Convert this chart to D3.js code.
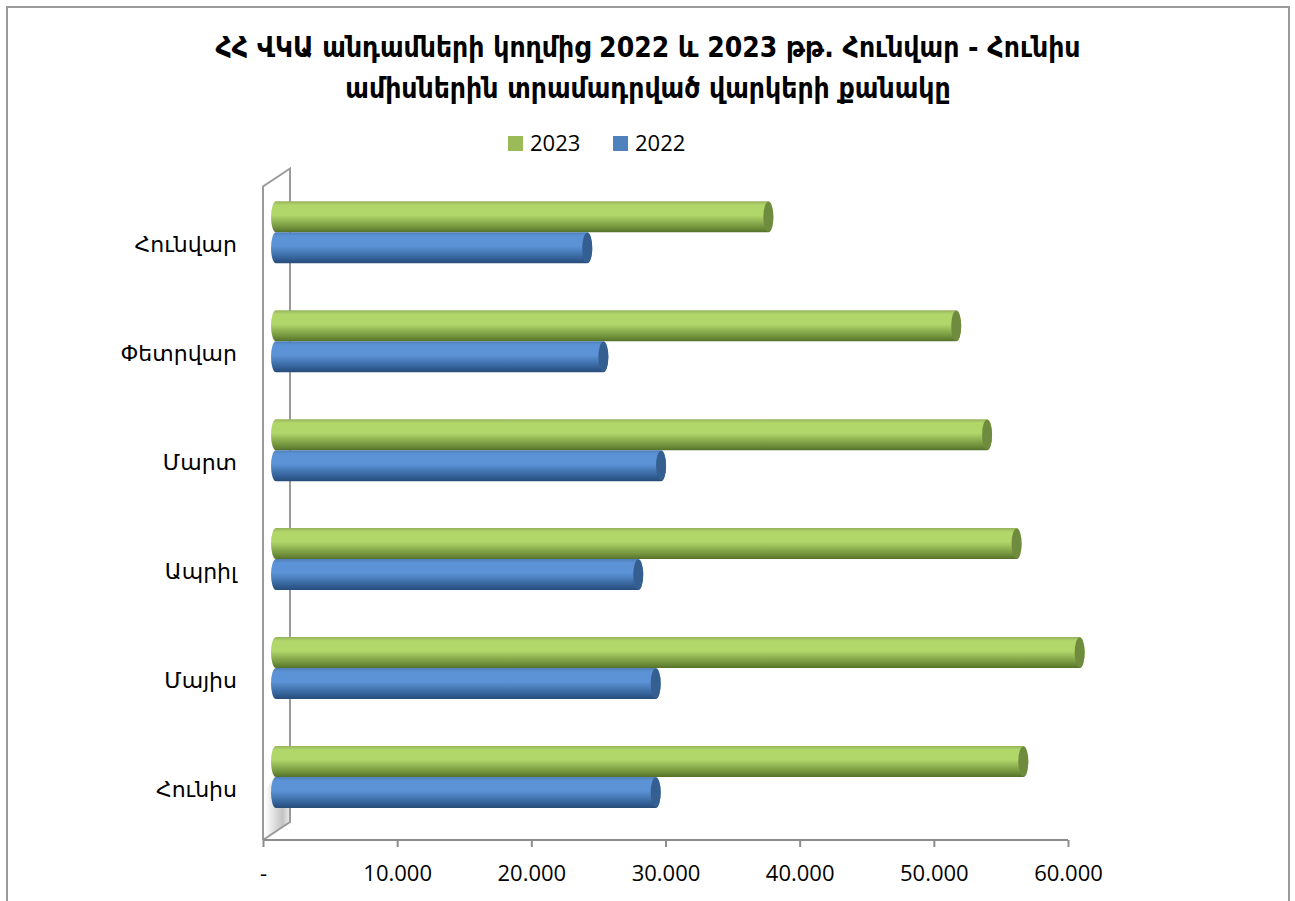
<!DOCTYPE html>
<html lang="hy">
<head>
<meta charset="utf-8">
<title>Վարկերի քանակը</title>
<script src="https://cdn.jsdelivr.net/npm/d3@7"></script>
<style>
  body { margin: 0; background: #fff; }
  text { font-family: "Open Sans", "DejaVu Sans", sans-serif; fill: #000; }
  .title { font-family: "DejaVu Sans Condensed", "DejaVu Sans", sans-serif; font-weight: bold; font-size: 28px; }
</style>
</head>
<body>
<script>
// data
var months = ["Հունվար", "Փետրվար", "Մարտ", "Ապրիլ", "Մայիս", "Հունիս"];
var years = ["2023", "2022"];
var values2023 = [36700, 50700, 53000, 55200, 59900, 55700];
var values2022 = [23200, 24400, 28700, 27000, 28300, 28300];
var tickValues = [0, 10000, 20000, 30000, 40000, 50000, 60000];
var tickLabels = ["-", "10.000", "20.000", "30.000", "40.000", "50.000", "60.000"];

var W = 1295, H = 901;
var svg = d3.select("body").append("svg").attr("width", W).attr("height", H);

// outer chart frame (bottom edge is cut off in the picture)
svg.append("path")
   .attr("d", "M7,901 L7,7 L1289,7 L1289,901")
   .attr("fill", "none").attr("stroke", "#9a9a9a").attr("stroke-width", 2);

// title
svg.append("text").attr("class", "title").attr("x", 648).attr("y", 57)
   .attr("text-anchor", "middle")
   .text("ՀՀ ՎԿԱ անդամների կողմից 2022 և 2023 թթ. Հունվար - Հունիս");
svg.append("text").attr("class", "title").attr("x", 648).attr("y", 98)
   .attr("text-anchor", "middle")
   .text("ամիսներին տրամադրված վարկերի քանակը");

// plot geometry (front plane) and 3d depth offset
var plotL = 263, plotR = 1068, plotT = 186.5, plotB = 840;
var depthX = 27, depthY = -18;     // back wall offset
var barDX = 13, barDY = -8.6;      // bars sit halfway back

var x = d3.scaleLinear().domain([0, 60000]).range([plotL, plotR]);
var y = d3.scaleBand().domain(months).range([plotT, plotB]);
var barH = 31;

var colors = {
  "2023": { top: "#95b35c", light: "#b1d66a", dark: "#6b8b37", edge: "#56712b", cap: "#6f8b3d" },
  "2022": { top: "#4f7fb8", light: "#5b93d6", dark: "#2f5b90", edge: "#274c78", cap: "#355f91" }
};

var defs = svg.append("defs");
years.forEach(function(yr) {
  var c = colors[yr];
  var g = defs.append("linearGradient").attr("id", "grad" + yr)
      .attr("x1", 0).attr("y1", 0).attr("x2", 0).attr("y2", 1);
  g.append("stop").attr("offset", "0%").attr("stop-color", c.top);
  g.append("stop").attr("offset", "12%").attr("stop-color", c.light);
  g.append("stop").attr("offset", "45%").attr("stop-color", c.light);
  g.append("stop").attr("offset", "88%").attr("stop-color", c.dark);
  g.append("stop").attr("offset", "100%").attr("stop-color", c.edge);
});
var wallGrad = defs.append("linearGradient").attr("id", "wallGrad")
    .attr("x1", 0).attr("y1", 0).attr("x2", 1).attr("y2", 0);
wallGrad.append("stop").attr("offset", "0%").attr("stop-color", "#ffffff");
wallGrad.append("stop").attr("offset", "70%").attr("stop-color", "#b4b4b4");
wallGrad.append("stop").attr("offset", "100%").attr("stop-color", "#e8e8e8");

// left wall
svg.append("path")
   .attr("d", "M" + (plotL + 2) + "," + (plotB - 2) + " L" + (plotL + 2) + "," + (plotB - 50) +
              " L" + (plotL + depthX - 3) + "," + (plotB + depthY - 60) + " L" + (plotL + depthX) + "," + (plotB + depthY))
   .attr("fill", "url(#wallGrad)").attr("opacity", 0.8);
svg.append("path")
   .attr("d", "M" + plotL + "," + plotB + " L" + plotL + "," + plotT +
              " L" + (plotL + depthX) + "," + (plotT + depthY) + " L" + (plotL + depthX) + "," + (plotB + depthY) +
              " L" + plotL + "," + plotB)
   .attr("fill", "none").attr("stroke", "#9a9a9a").attr("stroke-width", 2);

// x axis
var axis = svg.append("g").attr("transform", "translate(0," + plotB + ")")
   .call(d3.axisBottom(x).tickValues(tickValues).tickSize(7)
          .tickFormat(function(d, i) { return tickLabels[i]; }));
axis.select(".domain").attr("stroke", "#8c8c8c").attr("stroke-width", 2)
    .attr("d", "M" + plotL + ",0H" + plotR);
axis.selectAll(".tick line").attr("stroke", "#8c8c8c").attr("stroke-width", 2);
axis.selectAll(".tick text").attr("y", 25).attr("dy", "0.71em")
    .style("font-family", "'Open Sans', sans-serif").style("font-size", "22px").attr("fill", "#000");

// category labels
svg.selectAll("text.cat").data(months).enter().append("text")
   .attr("class", "cat")
   .attr("x", 237)
   .attr("y", function(d) { return y(d) + y.bandwidth() / 2 + 11; })
   .attr("text-anchor", "end")
   .style("font-size", "22px")
   .text(function(d) { return d; });

// cylinders
function cylinder(x0, x1, yTop, h) {
  var rx = 5, ry = h / 2, yb = yTop + h;
  return "M" + x0 + "," + yTop + " L" + x1 + "," + yTop +
         " A" + rx + "," + ry + " 0 0 1 " + x1 + "," + yb +
         " L" + x0 + "," + yb +
         " A" + rx + "," + ry + " 0 0 1 " + x0 + "," + yTop + " Z";
}

var rows = months.map(function(m, i) {
  return { month: m, "2023": values2023[i], "2022": values2022[i] };
});

years.forEach(function(yr, k) {
  var g = svg.append("g").attr("class", "series" + yr);
  var yTop = function(d) { return y(d.month) + y.bandwidth() / 2 + barDY - barH + k * barH; };
  g.selectAll("path.body").data(rows).enter().append("path")
   .attr("class", "body")
   .attr("d", function(d) { return cylinder(x(0) + barDX, x(d[yr]) + barDX, yTop(d), barH); })
   .attr("fill", "url(#grad" + yr + ")");
  g.selectAll("ellipse.cap").data(rows).enter().append("ellipse")
   .attr("class", "cap")
   .attr("cx", function(d) { return x(d[yr]) + barDX; })
   .attr("cy", function(d) { return yTop(d) + barH / 2; })
   .attr("rx", 5).attr("ry", barH / 2 - 0.5)
   .attr("fill", colors[yr].cap);
});

// legend
var legend = svg.append("g");
var legendX = [508, 613];
years.forEach(function(yr, i) {
  legend.append("rect").attr("x", legendX[i]).attr("y", 136).attr("width", 15).attr("height", 15)
        .attr("fill", yr === "2023" ? "#9bbb59" : "#4f81bd");
  legend.append("text").attr("x", legendX[i] + 22).attr("y", 151)
        .style("font-size", "22px").text(yr);
});
</script>
</body>
</html>
